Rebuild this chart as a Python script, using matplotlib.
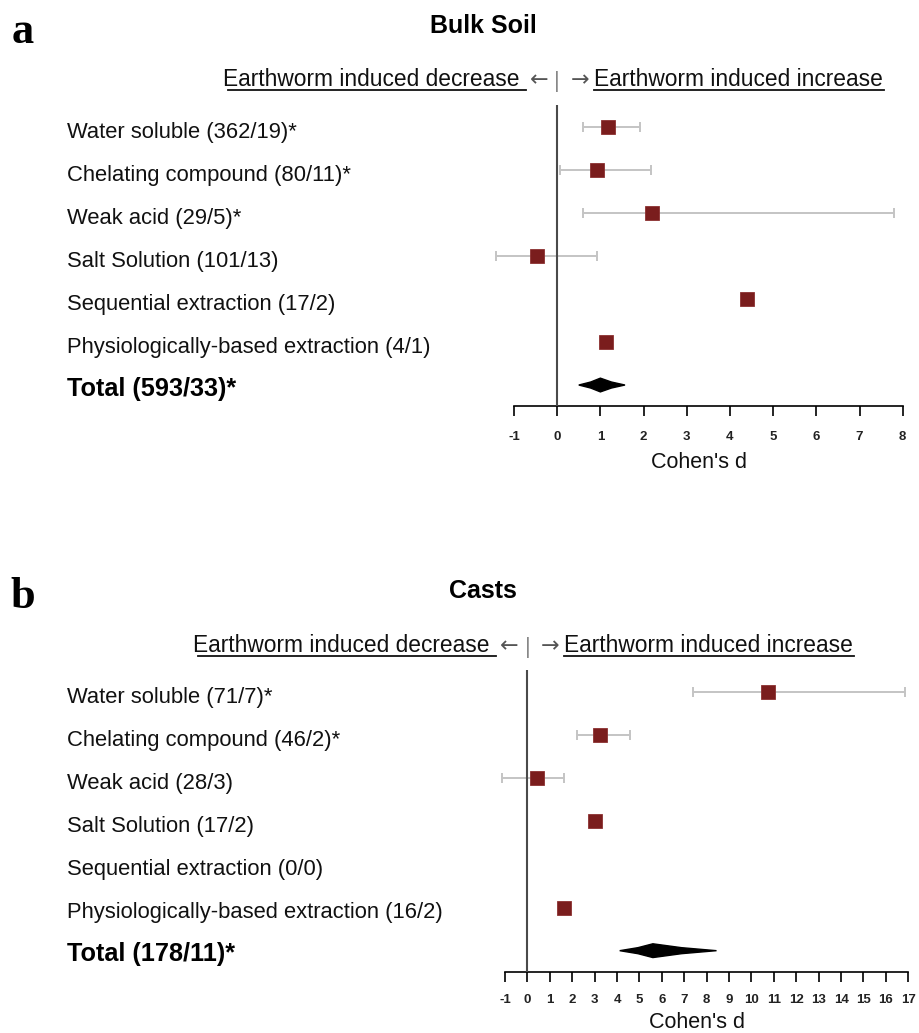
import numpy as np
import matplotlib
matplotlib.use("Agg")
import matplotlib.pyplot as plt
from matplotlib.lines import Line2D
from matplotlib.patches import Polygon
import matplotlib.transforms as mtransforms

plt.rcParams['font.family'] = ['Liberation Sans', 'DejaVu Sans']

# ---------------- data ----------------
labels_a = ["Water soluble (362/19)*", "Chelating compound (80/11)*", "Weak acid (29/5)*",
            "Salt Solution (101/13)", "Sequential extraction (17/2)",
            "Physiologically-based extraction (4/1)"]
total_label_a = "Total (593/33)*"
d_a = [1.17, 0.93, 2.19, -0.47, 4.40, 1.13]
lo_a = [0.59, 0.07, 0.59, -1.41, np.nan, np.nan]
hi_a = [1.91, 2.17, 7.81, 0.92, np.nan, np.nan]
total_a = (1.00, 0.50, 1.57)   # estimate, lower, upper

labels_b = ["Water soluble (71/7)*", "Chelating compound (46/2)*", "Weak acid (28/3)",
            "Salt Solution (17/2)", "Sequential extraction (0/0)",
            "Physiologically-based extraction (16/2)"]
total_label_b = "Total (178/11)*"
d_b = [10.75, 3.26, 0.42, 3.00, np.nan, 1.62]
lo_b = [7.40, 2.22, -1.13, np.nan, np.nan, np.nan]
hi_b = [16.87, 4.57, 1.65, np.nan, np.nan, np.nan]
total_b = (5.60, 4.12, 8.44)

xticks_a = list(range(-1, 9))
xticks_b = list(range(-1, 18))

W, H = 919, 1033
fig = plt.figure(figsize=(W / 100, H / 100), dpi=100)


def fx(x):
    return x / W


def fy(y):
    return 1 - y / H


MARKER_C = '#7a1d1d'
ERR_C = '#c4c4c4'


def panel(letter, title, labels, total_label, d, lo, hi, total, xticks,
          x_left, x_right, y_top, y_axis, title_y, letter_y, header_y, tick_pad, xlabel_y):
    ax = fig.add_axes([fx(x_left), fy(y_axis), fx(x_right) - fx(x_left), (y_axis - y_top) / H])
    n = len(labels)
    rows = np.arange(n)
    d = np.array(d, float)
    lo = np.array(lo, float)
    hi = np.array(hi, float)
    ok = ~np.isnan(lo)
    ax.errorbar(d[ok], rows[ok], xerr=[d[ok] - lo[ok], hi[ok] - d[ok]], fmt='none',
                ecolor=ERR_C, elinewidth=1.4, capsize=3.6, capthick=1.4, zorder=2,
                clip_on=False)
    ax.axvline(0, color='#4a4a4a', lw=1.5, zorder=3)
    okd = ~np.isnan(d)
    ax.plot(d[okd], rows[okd], 's', ms=10.6, color=MARKER_C, mec='#8c3030', mew=0.6,
            zorder=4, clip_on=False)
    # total diamond
    est, tl, tu = total
    yt = n
    hh = 0.16
    poly = Polygon([[tl, yt], [est - 0.45 * (est - tl), yt - 0.07], [est, yt - hh],
                    [est + 0.45 * (tu - est), yt - 0.07], [tu, yt],
                    [est + 0.45 * (tu - est), yt + 0.07], [est, yt + hh],
                    [est - 0.45 * (est - tl), yt + 0.07]],
                   closed=True, color='black', zorder=4, clip_on=False)
    ax.add_patch(poly)

    ax.set_xlim(xticks[0], xticks[-1])
    ax.set_ylim(6.488, -0.515)
    for s in ['top', 'right', 'left']:
        ax.spines[s].set_visible(False)
    ax.spines['bottom'].set_linewidth(1.2)
    ax.spines['bottom'].set_color('black')
    ax.set_yticks([])
    ax.set_xticks(xticks)
    ax.set_xticklabels([str(t) for t in xticks])
    ax.tick_params(axis='x', direction='out', length=7.3, width=1.2, pad=tick_pad,
                   labelsize=9.5, colors='black')
    for lab in ax.get_xticklabels():
        lab.set_fontweight('bold')
        lab.set_color('#222222')
    ax.patch.set_alpha(0)

    # row labels
    trans = mtransforms.blended_transform_factory(fig.transFigure, ax.transData)
    trans = trans + mtransforms.ScaledTranslation(0, -10.5 / 100, fig.dpi_scale_trans)
    for i, lab in enumerate(labels):
        ax.text(fx(67), i, lab, transform=trans, fontsize=15.8, va='baseline',
                ha='left', color='#111111')
    ax.text(fx(67), n, total_label, transform=trans, fontsize=18.2, va='baseline',
            ha='left', fontweight='bold', color='black')

    # zero position in pixels
    x0 = x_left + (0 - xticks[0]) / (xticks[-1] - xticks[0]) * (x_right - x_left)

    # header
    hy = header_y
    fig.text(fx(x0 - 38), fy(hy), "Earthworm induced decrease", fontsize=16.4,
             ha='right', va='baseline', color='#111111')
    fig.text(fx(x0 - 18), fy(hy), "\u2190", fontsize=16, ha='center', va='baseline',
             color='#555555', family=['DejaVu Sans'])
    fig.text(fx(x0), fy(hy + 1), "|", fontsize=16, ha='center', va='baseline',
             color='#888888')
    fig.text(fx(x0 + 23), fy(hy), "\u2192", fontsize=16, ha='center', va='baseline',
             color='#555555', family=['DejaVu Sans'])
    fig.text(fx(x0 + 37), fy(hy), "Earthworm induced increase", fontsize=16.4,
             ha='left', va='baseline', color='#111111')
    uy = hy + 3.5
    fig.add_artist(Line2D([fx(x0 - 329), fx(x0 - 31)], [fy(uy), fy(uy)], color='#111111',
                          lw=1.3))
    fig.add_artist(Line2D([fx(x0 + 37), fx(x0 + 327)], [fy(uy), fy(uy)], color='#111111',
                          lw=1.3))

    # title and panel letter
    fig.text(fx(483), fy(title_y), title, fontsize=18, fontweight='bold', ha='center',
             va='baseline', color='black')
    fig.text(fx(23), fy(letter_y), letter, fontsize=32, fontweight='bold', ha='center',
             va='baseline', family=['Liberation Serif', 'DejaVu Serif'], color='black')

    # x label
    fig.text(fx(x_left + (x_right - x_left) * 0.475), fy(xlabel_y), "Cohen's d",
             fontsize=15.5, ha='center', va='baseline', color='#111111')
    return ax


panel('a', 'Bulk Soil', labels_a, total_label_a, d_a, lo_a, hi_a, total_a, xticks_a,
      514, 902.7, 105, 406, 33, 43, 86, 10.5, 468)
panel('b', 'Casts', labels_b, total_label_b, d_b, lo_b, hi_b, total_b, xticks_b,
      505, 908.3, 670, 971.7, 598, 608, 652, 8.5, 1028)

fig.savefig('out.png', dpi=100)
